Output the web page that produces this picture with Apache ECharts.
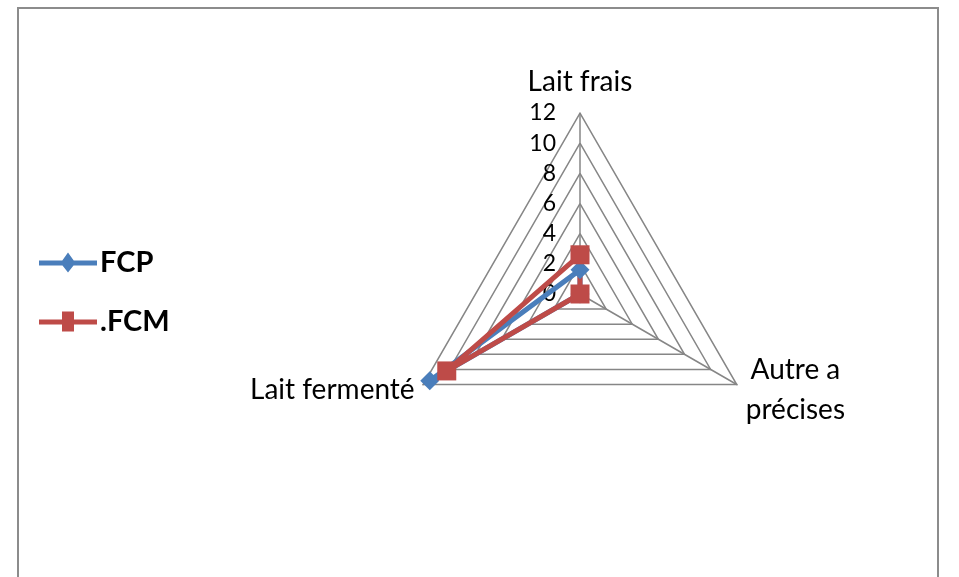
<!DOCTYPE html>
<html>
<head>
<meta charset="utf-8">
<script src="https://cdn.jsdelivr.net/npm/echarts@6/dist/echarts.min.js"></script>
<style>
html,body{margin:0;padding:0;background:#fff;}
#radar{position:absolute;left:0;top:0;width:959px;height:577px;}
#cadre{position:absolute;left:17px;top:7px;width:922px;height:600px;border:2px solid #8c8c8c;box-sizing:border-box;}
</style>
</head>
<body>
<div id="cadre"></div>
<div id="radar"></div>
<script>
// axes (ordre echarts : haut, puis sens anti-horaire)
var axes = ['Lait frais', 'Lait fermenté', 'Autre a\nprécises'];
var maxVal = 12;
var fcp = [1.6, 11.5, 0];
var fcm = [2.6, 10.2, 0];
var series_names = ['FCP', '.FCM'];

var bleu = '#4a7ebb', rouge = '#be4b48';

var chart = echarts.init(document.getElementById('radar'));
var indic = axes.map(function(a, i){
  var o = {name: a, max: maxVal, min: 0};
  if(i == 0){
    o.axisLabel = {show: true, color: '#000', fontSize: 23, fontFamily: 'Lato', margin: 24};
  }
  if(i == 2){
    // texte centre sur deux lignes
    o.nameTextStyle = {align: 'center', padding: [0, 0, 0, 100]};
  }
  return o;
});
option = {
  animation: false,
  legend: {
    orient: 'vertical',
    left: 34,
    top: 243,
    itemWidth: 58,
    itemHeight: 20,
    itemGap: 30,
    data: [
      {name: series_names[0], icon: 'path://M0,8 L58,8 L58,13 L0,13 Z M29,0 L36.5,10.5 L29,20 L21.5,10.5 Z'},
      {name: series_names[1], icon: 'path://M0,8 L58,8 L58,13 L0,13 Z M23,0 L35,0 L35,20 L23,20 Z'}
    ],
    textStyle: {color: '#000', fontSize: 29, fontWeight: 'bold', fontFamily: 'Lato', padding: [0, 0, 0, -2]}
  },
  radar: {
    center: [580, 294],
    radius: 181,
    shape: 'polygon',
    splitNumber: 6,
    startAngle: 90,
    indicator: indic,
    axisName: {color: '#000', fontSize: 28, fontFamily: 'Lato', lineHeight: 40},
    nameGap: 10,
    axisLine: {lineStyle: {color: '#868686', width: 1.5}},
    splitLine: {lineStyle: {color: '#868686', width: 1.5}},
    splitArea: {show: false},
    axisLabel: {show: false}
  },
  series: [{
    type: 'radar',
    data: [
      {
        name: series_names[0], value: fcp,
        symbol: 'diamond', symbolSize: 19,
        lineStyle: {color: bleu, width: 5},
        itemStyle: {color: bleu}
      },
      {
        name: series_names[1], value: fcm,
        symbol: 'rect', symbolSize: 19,
        lineStyle: {color: rouge, width: 5},
        itemStyle: {color: rouge}
      }
    ]
  }]
};
chart.setOption(option);
</script>
</body>
</html>
